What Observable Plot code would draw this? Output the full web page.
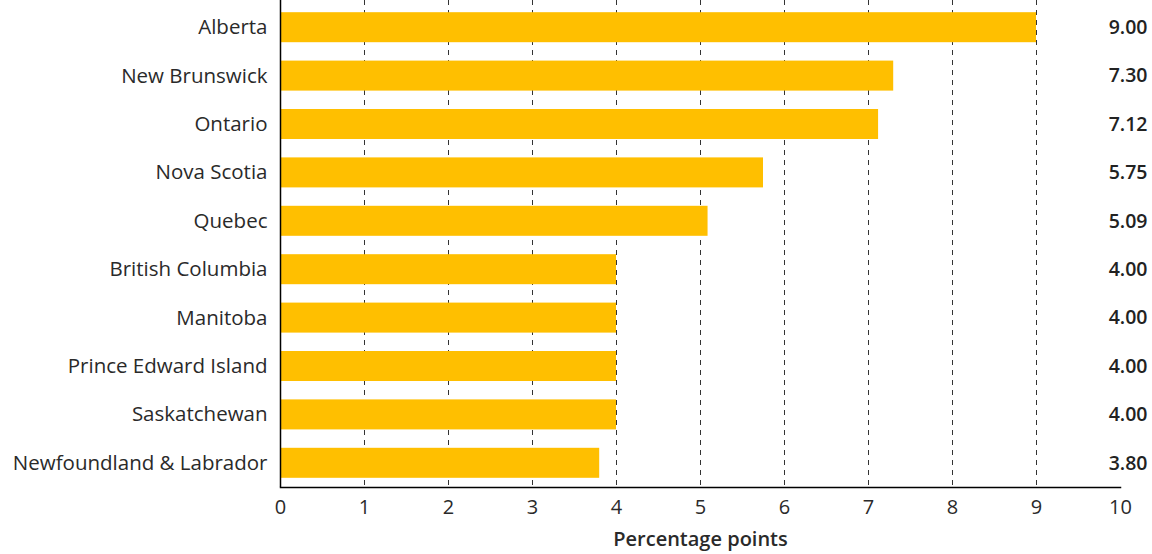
<!DOCTYPE html>
<html>
<head>
<meta charset="utf-8">
<script src="https://cdn.jsdelivr.net/npm/d3@7"></script>
<script src="https://cdn.jsdelivr.net/npm/@observablehq/plot@0.6"></script>
<style>
  html, body { margin: 0; padding: 0; background: #fff; }
  #chart svg { font-family: "Open Sans", Lato, sans-serif; }
  #chart [aria-label="x-axis label"] text { font-weight: 600; font-size: 20px; }
</style>
</head>
<body>
<div id="chart"></div>
<script>
// Provinces, in display order, and their percentage-point values
const provinces = [
  "Alberta", "New Brunswick", "Ontario", "Nova Scotia", "Quebec",
  "British Columbia", "Manitoba", "Prince Edward Island", "Saskatchewan",
  "Newfoundland & Labrador"
];
const values = [9.00, 7.30, 7.12, 5.75, 5.09, 4.00, 4.00, 4.00, 4.00, 3.80];
const xTicks = [0, 1, 2, 3, 4, 5, 6, 7, 8, 9, 10];
const gridTicks = [1, 2, 3, 4, 5, 6, 7, 8, 9];

const data = provinces.map((p, i) => ({province: p, value: values[i]}));

const chart = Plot.plot({
  width: 1152,
  height: 554,
  marginLeft: 280,
  marginRight: 32,
  marginTop: 3,
  marginBottom: 67,
  style: {fontSize: "19px", color: "#222"},
  x: {domain: [0, 10], ticks: xTicks},
  y: {domain: provinces, paddingInner: 0.38, paddingOuter: 0.19, round: false, label: null},
  marks: [
    Plot.ruleX(gridTicks, {stroke: "#333", strokeDasharray: "5,5", strokeWidth: 1, insetTop: -3}),
    Plot.barX(data, {x: "value", y: "province", fill: "#FFBF00"}),
    Plot.ruleX([0], {stroke: "#000", strokeWidth: 1.5, insetTop: -3}),
    Plot.frame({anchor: "bottom", stroke: "#000", strokeWidth: 1.5}),
    Plot.axisY({tickSize: 0, tickPadding: 13, fontSize: 20.5, fill: "#2a2a2a", label: null}),
    Plot.axisX({
      ticks: xTicks, tickSize: 0, tickPadding: 12, fontSize: 20, fill: "#2a2a2a",
      tickFormat: d3.format("d"),
      label: "Percentage points", labelAnchor: "center", labelArrow: false, labelOffset: 58
    }),
    Plot.text(data, {
      y: "province", text: d => d.value.toFixed(2),
      frameAnchor: "right", dx: 27, textAnchor: "end",
      fontWeight: 600, fontSize: 19.5, fill: "#222"
    })
  ]
});
document.getElementById("chart").appendChild(chart);
</script>
</body>
</html>
